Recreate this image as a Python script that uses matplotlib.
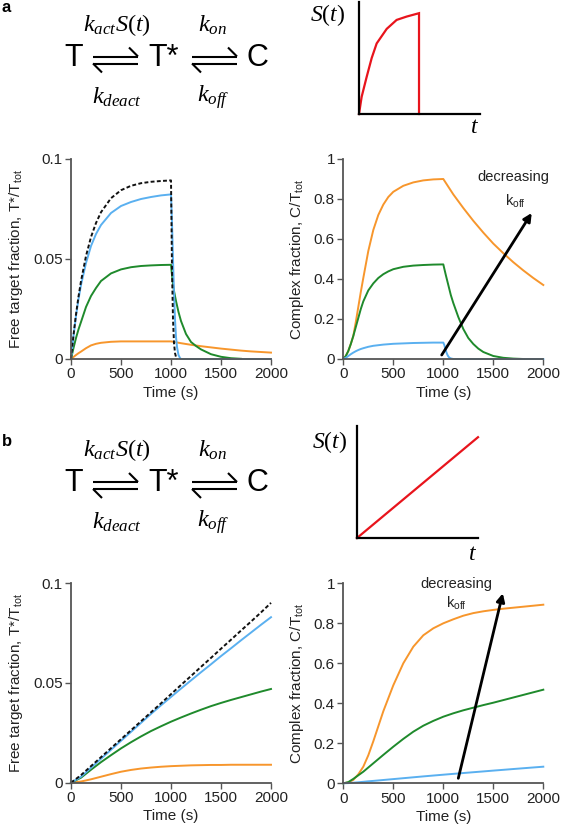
import matplotlib
matplotlib.use("Agg")
import matplotlib.pyplot as plt
from matplotlib.lines import Line2D

plt.rcParams['font.family'] = ['Liberation Sans', 'DejaVu Sans']
plt.rcParams['mathtext.fontset'] = 'custom'
plt.rcParams['mathtext.rm'] = 'Liberation Serif'
plt.rcParams['mathtext.it'] = 'Liberation Serif:italic'
plt.rcParams['mathtext.sf'] = 'Liberation Sans'

# ---------------- data ----------------
x_ticks = [0, 500, 1000, 1500, 2000]
tstar_ticks = [0, 0.05, 0.1]
tstar_ticklabels = ["0", "0.05", "0.1"]
c_ticks = [0, 0.2, 0.4, 0.6, 0.8, 1.0]
c_ticklabels = ["0", "0.2", "0.4", "0.6", "0.8", "1"]

# Panel a: pulse stimulus, free target fraction T*/Ttot
a_t_rise = [0, 25, 50, 75, 100, 150, 200, 250, 300, 400, 500, 600, 700, 800, 900, 1000]
a_tstar_black_rise = [0, 0.0119, 0.0223, 0.0312, 0.0389, 0.0515, 0.0610, 0.0680, 0.0734, 0.0804, 0.0844, 0.0866, 0.0879, 0.0886, 0.0890, 0.0893]
a_tstar_blue_rise = [0, 0.0115, 0.0215, 0.0300, 0.0370, 0.0480, 0.0565, 0.0625, 0.0670, 0.0730, 0.0765, 0.0785, 0.0800, 0.0810, 0.0818, 0.0823]
a_tstar_green_rise = [0, 0.0055, 0.0105, 0.0148, 0.0185, 0.0260, 0.0315, 0.0355, 0.0390, 0.0428, 0.0448, 0.0459, 0.0465, 0.0468, 0.0470, 0.0471]
a_tstar_orange_rise = [0, 0.0010, 0.0020, 0.0029, 0.0037, 0.0054, 0.0068, 0.0076, 0.0081, 0.0086, 0.0088, 0.0088, 0.0088, 0.0088, 0.0088, 0.0088]

a_tstar_black_fall_t = [1000, 1005, 1010, 1020, 1030, 1040, 1050, 1060]
a_tstar_black_fall = [0.0893, 0.068, 0.045, 0.020, 0.008, 0.003, 0.001, 0.0]
a_tstar_blue_fall_t = [1000, 1010, 1020, 1030, 1040, 1050, 1060, 1075, 1090, 1100, 2000]
a_tstar_blue_fall = [0.0823, 0.068, 0.050, 0.033, 0.020, 0.011, 0.006, 0.002, 0.0005, 0.0, 0.0]
a_tstar_green_fall_t = [1000, 1010, 1020, 1030, 1050, 1075, 1100, 1150, 1200, 1250, 1300, 1400, 1500, 1600, 1700]
a_tstar_green_fall = [0.0471, 0.042, 0.0375, 0.034, 0.029, 0.0235, 0.019, 0.0125, 0.0085, 0.0065, 0.0048, 0.0024, 0.0011, 0.0004, 0.0001]
a_tstar_orange_fall_t = [1000, 1100, 1200, 1300, 1400, 1500, 1600, 1700, 1800, 1900, 2000]
a_tstar_orange_fall = [0.0088, 0.0079, 0.0071, 0.0064, 0.0058, 0.0052, 0.0047, 0.0042, 0.0038, 0.0035, 0.0032]

# Panel a: complex fraction C/Ttot
a_c_t_rise = [0, 25, 50, 75, 100, 125, 150, 175, 200, 250, 300, 350, 400, 450, 500, 600, 700, 800, 900, 1000]
a_c_orange_rise = [0, 0.015, 0.040, 0.075, 0.115, 0.185, 0.260, 0.335, 0.405, 0.540, 0.645, 0.720, 0.772, 0.810, 0.836, 0.866, 0.883, 0.893, 0.898, 0.900]
a_c_green_rise = [0, 0.015, 0.040, 0.075, 0.115, 0.160, 0.205, 0.250, 0.288, 0.343, 0.378, 0.405, 0.424, 0.438, 0.449, 0.461, 0.467, 0.470, 0.472, 0.473]
a_c_blue_rise = [0, 0.006, 0.015, 0.024, 0.032, 0.039, 0.045, 0.050, 0.054, 0.061, 0.066, 0.069, 0.072, 0.074, 0.076, 0.078, 0.080, 0.081, 0.082, 0.082]

a_c_orange_fall_t = [1000, 1100, 1200, 1300, 1400, 1500, 1600, 1700, 1800, 1900, 2000]
a_c_orange_fall = [0.900, 0.823, 0.755, 0.691, 0.632, 0.577, 0.529, 0.484, 0.443, 0.405, 0.370]
a_c_green_fall_t = [1000, 1025, 1050, 1075, 1100, 1150, 1200, 1250, 1300, 1350, 1400, 1500, 1600, 1700, 1800]
a_c_green_fall = [0.473, 0.420, 0.370, 0.320, 0.280, 0.210, 0.150, 0.105, 0.075, 0.052, 0.035, 0.015, 0.006, 0.002, 0.0]
a_c_blue_fall_t = [1000, 1010, 1020, 1030, 1040, 1050, 1060, 1075, 1100, 2000]
a_c_blue_fall = [0.082, 0.070, 0.052, 0.035, 0.022, 0.013, 0.007, 0.003, 0.0, 0.0]

# Panel b: ramp stimulus
b_t = [0, 100, 200, 300, 400, 500, 600, 700, 800, 900, 1000, 1100, 1200, 1300, 1400, 1500, 1600, 1700, 1800, 1900, 2000]
b_tstar_black = [0, 0.0038, 0.0083, 0.0128, 0.0173, 0.0218, 0.0263, 0.0308, 0.0353, 0.0398, 0.0444, 0.0490, 0.0535, 0.0581, 0.0626, 0.0672, 0.0717, 0.0763, 0.0808, 0.0854, 0.0902]
b_tstar_blue = [0, 0.0030, 0.0075, 0.0120, 0.0165, 0.0210, 0.0255, 0.0300, 0.0345, 0.0388, 0.0430, 0.0472, 0.0513, 0.0554, 0.0594, 0.0635, 0.0674, 0.0714, 0.0753, 0.0792, 0.0830]
b_tstar_green = [0, 0.0025, 0.0065, 0.0103, 0.0138, 0.0172, 0.0203, 0.0232, 0.0259, 0.0283, 0.0306, 0.0327, 0.0347, 0.0366, 0.0384, 0.0400, 0.0415, 0.0429, 0.0443, 0.0457, 0.0470]
b_tstar_orange = [0, 0.0006, 0.0017, 0.0030, 0.0043, 0.0055, 0.0064, 0.0071, 0.0076, 0.0080, 0.0083, 0.0085, 0.0087, 0.0088, 0.0089, 0.0089, 0.0090, 0.0090, 0.0090, 0.0090, 0.0090]

b_c_t = [0, 50, 100, 150, 200, 250, 300, 400, 500, 600, 700, 800, 900, 1000, 1100, 1200, 1300, 1400, 1500, 1600, 1700, 1800, 1900, 2000]
b_c_orange = [0, 0.004, 0.017, 0.045, 0.083, 0.140, 0.210, 0.360, 0.490, 0.600, 0.683, 0.740, 0.775, 0.800, 0.820, 0.838, 0.851, 0.860, 0.867, 0.873, 0.878, 0.883, 0.888, 0.893]
b_c_green = [0, 0.006, 0.022, 0.040, 0.058, 0.079, 0.100, 0.142, 0.183, 0.222, 0.258, 0.288, 0.312, 0.333, 0.350, 0.365, 0.378, 0.391, 0.403, 0.416, 0.429, 0.442, 0.455, 0.468]
b_c_blue = [0, 0.001, 0.003, 0.005, 0.0075, 0.010, 0.012, 0.0165, 0.021, 0.0255, 0.030, 0.0345, 0.0388, 0.0430, 0.0472, 0.0513, 0.0554, 0.0594, 0.0635, 0.0674, 0.0714, 0.0753, 0.0792, 0.0830]

# schematic stimulus shapes (normalised)
s_pulse_t = [0, 0.022, 0.063, 0.105, 0.146, 0.229, 0.311, 0.394, 0.496, 0.496]
s_pulse_v = [0, 0.154, 0.33, 0.50, 0.63, 0.76, 0.84, 0.87, 0.90, 0.0]
s_ramp_t = [0, 1.0]
s_ramp_v = [0, 0.9]

# annotation arrows (data coords): start, end
a_arrow = [(984, 0.02), (1884, 0.73)]
a_arrow_text = [(1700, 0.91), (1717, 0.79)]
b_arrow = [(1150, 0.025), (1595, 0.95)]
b_arrow_text = [(1134, 0.995), (1134, 0.90)]

# ---------------- style ----------------
ORANGE = '#F7962C'
GREEN = '#1F8A2C'
BLUE = '#5AB0F0'
BLACK = '#111111'
RED = '#E8141C'
AXC = '#555555'
LW = 1.4
FS = 11

W, H = 562, 826
fig = plt.figure(figsize=(W / 100, H / 100), dpi=100)


def fx(x):
    return x / W


def fy(y):
    return 1 - y / H


def make_axes(x0, x1, ytop, ybot):
    return fig.add_axes([fx(x0), fy(ybot), (x1 - x0) / W, (ybot - ytop) / H])


def style(ax, yticks, yticklabels, ymax, ylabel):
    ax.set_xlim(0, 2000)
    ax.set_ylim(0, ymax)
    ax.set_xticks(x_ticks)
    ax.set_yticks(yticks)
    ax.set_yticklabels(yticklabels)
    for s in ['top', 'right']:
        ax.spines[s].set_visible(False)
    for s in ['left', 'bottom']:
        ax.spines[s].set_color(AXC)
        ax.spines[s].set_linewidth(1.3)
    ax.tick_params(colors=AXC, labelcolor='#222222', labelsize=FS, length=4, width=1.0, pad=2)
    ax.set_xlabel('Time (s)', fontsize=FS, color='#222222', labelpad=3)
    ax.set_ylabel(ylabel, fontsize=FS, color='#222222', labelpad=6)


tstar_label = r'Free target fraction, T*/T$_{\mathsf{tot}}$'
c_label = r'Complex fraction, C/T$_{\mathsf{tot}}$'

# Panel a left
ax1 = make_axes(71, 271, 159, 359)
ax1.plot(a_t_rise + a_tstar_orange_fall_t, a_tstar_orange_rise + a_tstar_orange_fall, color=ORANGE, lw=LW, clip_on=False)
ax1.plot(a_t_rise + a_tstar_green_fall_t, a_tstar_green_rise + a_tstar_green_fall, color=GREEN, lw=LW, clip_on=False)
ax1.plot(a_t_rise + a_tstar_blue_fall_t, a_tstar_blue_rise + a_tstar_blue_fall, color=BLUE, lw=LW, clip_on=False)
ax1.plot(a_t_rise + a_tstar_black_fall_t, a_tstar_black_rise + a_tstar_black_fall, color=BLACK, lw=1.4,
         ls=(0, (2, 1.2)), clip_on=False)
style(ax1, tstar_ticks, tstar_ticklabels, 0.1, tstar_label)

# Panel a right
ax2 = make_axes(343.3, 543.3, 159, 359)
ax2.plot(a_c_t_rise + a_c_orange_fall_t, a_c_orange_rise + a_c_orange_fall, color=ORANGE, lw=LW, clip_on=False)
ax2.plot(a_c_t_rise + a_c_green_fall_t, a_c_green_rise + a_c_green_fall, color=GREEN, lw=LW, clip_on=False)
ax2.plot(a_c_t_rise + a_c_blue_fall_t, a_c_blue_rise + a_c_blue_fall, color=BLUE, lw=LW, clip_on=False)
style(ax2, c_ticks, c_ticklabels, 1.0, c_label)
ax2.annotate('', xy=a_arrow[1], xytext=a_arrow[0],
             arrowprops=dict(arrowstyle='-|>', color='black', lw=2.0, mutation_scale=12, shrinkA=0, shrinkB=0))
ax2.text(*a_arrow_text[0], 'decreasing', ha='center', va='center', fontsize=10.5, color='#222222')
ax2.text(*a_arrow_text[1], r'k$_{\mathsf{off}}$', ha='center', va='center', fontsize=10.5, color='#222222')

# Panel b left
ax3 = make_axes(71, 271, 583.3, 782.7)
ax3.plot(b_t, b_tstar_orange, color=ORANGE, lw=LW, clip_on=False)
ax3.plot(b_t, b_tstar_green, color=GREEN, lw=LW, clip_on=False)
ax3.plot(b_t, b_tstar_blue, color=BLUE, lw=LW, clip_on=False)
ax3.plot(b_t, b_tstar_black, color=BLACK, lw=1.4, ls=(0, (2, 1.2)), clip_on=False)
style(ax3, tstar_ticks, tstar_ticklabels, 0.1, tstar_label)

# Panel b right
ax4 = make_axes(343.3, 543.3, 583.3, 783.3)
ax4.plot(b_c_t, b_c_orange, color=ORANGE, lw=LW, clip_on=False)
ax4.plot(b_c_t, b_c_green, color=GREEN, lw=LW, clip_on=False)
ax4.plot(b_c_t, b_c_blue, color=BLUE, lw=LW, clip_on=False)
style(ax4, c_ticks, c_ticklabels, 1.0, c_label)
ax4.annotate('', xy=b_arrow[1], xytext=b_arrow[0],
             arrowprops=dict(arrowstyle='-|>', color='black', lw=2.0, mutation_scale=12, shrinkA=0, shrinkB=0))
ax4.text(*b_arrow_text[0], 'decreasing', ha='center', va='center', fontsize=10.5, color='#222222')
ax4.text(*b_arrow_text[1], r'k$_{\mathsf{off}}$', ha='center', va='center', fontsize=10.5, color='#222222')


# Stimulus schematics
def stim_axes(x0, ytop, tvals, svals, lab_xy, t_xy):
    ax = make_axes(x0, x0 + 121, ytop, ytop + 112)
    ax.plot(tvals, svals, color=RED, lw=1.6, clip_on=False, solid_joinstyle='miter')
    ax.set_xlim(0, 1)
    ax.set_ylim(0, 1)
    ax.set_xticks([])
    ax.set_yticks([])
    for s in ['top', 'right']:
        ax.spines[s].set_visible(False)
    for s in ['left', 'bottom']:
        ax.spines[s].set_color('black')
        ax.spines[s].set_linewidth(1.6)
    ax.patch.set_alpha(0)
    fig.text(fx(lab_xy[0]), fy(lab_xy[1]), r'$S(t)$', ha='center', va='center', fontsize=17)
    fig.text(fx(t_xy[0]), fy(t_xy[1]), r'$t$', ha='center', va='center', fontsize=17)


stim_axes(359, 2, s_pulse_t, s_pulse_v, (328, 15), (475, 127))
stim_axes(357, 426, s_ramp_t, s_ramp_v, (330, 442), (473, 554))


# Reaction schemes
def harpoons(x0, x1, yc):
    yu, yl = yc - 3.5, yc + 3.5
    kw = dict(color='black', lw=1.5, solid_capstyle='butt')
    fig.add_artist(Line2D([fx(x0), fx(x1)], [fy(yu), fy(yu)], **kw))
    fig.add_artist(Line2D([fx(x1), fx(x1 - 9)], [fy(yu), fy(yu - 9)], **kw))
    fig.add_artist(Line2D([fx(x0), fx(x1)], [fy(yl), fy(yl)], **kw))
    fig.add_artist(Line2D([fx(x0), fx(x0 + 9)], [fy(yl), fy(yl + 9)], **kw))


def scheme(dy, label, label_xy):
    fig.text(fx(label_xy[0]), fy(label_xy[1]), label, fontsize=12, fontweight='bold', ha='left', va='center')
    fig.text(fx(74), fy(58 + dy), 'T', fontsize=22, ha='center', va='center')
    fig.text(fx(164), fy(58 + dy), 'T*', fontsize=22, ha='center', va='center')
    fig.text(fx(257), fy(58 + dy), 'C', fontsize=22, ha='center', va='center')
    harpoons(93, 138, 60 + dy)
    harpoons(192, 237, 60 + dy)
    fig.text(fx(117), fy(25 + dy), r'$k_{act}S(t)$', fontsize=17.5, ha='center', va='center')
    fig.text(fx(213), fy(25 + dy), r'$k_{on}$', fontsize=17.5, ha='center', va='center')
    fig.text(fx(117), fy(97 + dy), r'$k_{deact}$', fontsize=17.5, ha='center', va='center')
    fig.text(fx(213), fy(97 + dy), r'$k_{off}$', fontsize=17.5, ha='center', va='center')


scheme(0, 'a', (2, 8))
scheme(425.5, 'b', (2, 442))

fig.savefig('out.png', dpi=100)
